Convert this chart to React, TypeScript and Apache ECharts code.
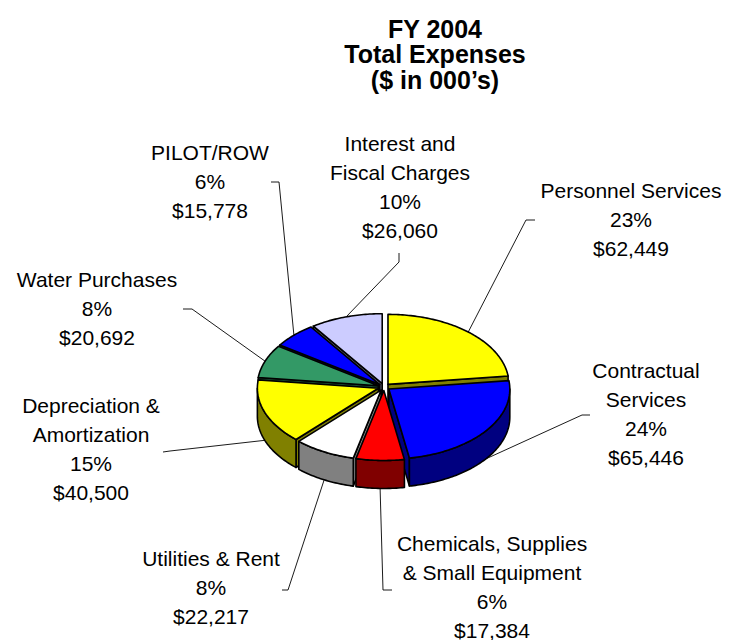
import React, { useEffect, useRef } from "react";
import * as echarts from "echarts";

// ---------- data ----------
const categories = [
  "Personnel Services",
  "Contractual\nServices",
  "Chemicals, Supplies\n& Small Equipment",
  "Utilities & Rent",
  "Depreciation &\nAmortization",
  "Water Purchases",
  "PILOT/ROW",
  "Interest and\nFiscal Charges",
];
const expenses = [62449, 65446, 17384, 22217, 40500, 20692, 15778, 26060];
const titleLines = ["FY 2004", "Total Expenses", "($ in 000\u2019s)"];

// ---------- styles / layout ----------
const topColors = ["#FFFF00", "#0000FF", "#FF0000", "#FFFFFF", "#FFFF00", "#339966", "#0000FF", "#CCCCFF"];
const sideColors = ["#808000", "#000080", "#800000", "#808080", "#808000", "#1A4D33", "#000080", "#666680"];
const PIE = { cx: 384, cy: 387, rx: 121, ry: 70, depth: 28, explode: 6 };
const LABEL_LINE_HEIGHT = 29;
// center x, top y of the label block
const labelPos = [
  [631, 176],
  [646, 356],
  [492, 529],
  [211, 544],
  [91, 391],
  [97, 265],
  [210, 138],
  [400, 129],
];
// first points of each leader line (near the label)
const leaderTicks = [
  [[535, 220], [526, 220]],
  [[590, 415], [582, 415]],
  [[392, 590], [383, 590]],
  [[282, 590], [288, 590]],
  [[163, 452], [170, 451]],
  [[183, 309], [192, 309]],
  [[271, 182], [279, 182]],
  [[399, 253], [399, 262]],
];
const FONT = '"Liberation Sans", Arial, Helvetica, sans-serif';

const total = expenses.reduce((a, b) => a + b, 0);
const cumulative: number[] = [];
expenses.reduce((acc, v, i) => {
  cumulative[i] = acc;
  return acc + v;
}, 0);
const midDepth = expenses.map((v, i) => {
  const mid = ((cumulative[i] + v / 2) / total) * Math.PI * 2;
  return -Math.cos(mid);
});
const order = midDepth.map((d, i) => i).sort((a, b) => midDepth[a] - midDepth[b]);
const rank: number[] = [];
order.forEach((idx, r) => (rank[idx] = r));

function renderItem(params: any, api: any) {
  const i = params.dataIndex;
  const v = api.value(0) as number;
  const s = (cumulative[i] / total) * Math.PI * 2;
  const e = ((cumulative[i] + v) / total) * Math.PI * 2;
  const mid = (s + e) / 2;
  const { rx, ry, depth, explode } = PIE;
  const cx = PIE.cx + explode * Math.sin(mid);
  const cy = PIE.cy - explode * Math.cos(mid) * (ry / rx);
  const pt = (a: number, dy = 0) => [cx + rx * Math.sin(a), cy - ry * Math.cos(a) + dy];
  const arc = (a0: number, a1: number, dy = 0) => {
    const n = Math.max(2, Math.ceil((a1 - a0) / (Math.PI / 180)));
    const out: number[][] = [];
    for (let k = 0; k <= n; k++) out.push(pt(a0 + ((a1 - a0) * k) / n, dy));
    return out;
  };
  const base = rank[i] * 10;
  const stroke = { stroke: "#000", lineWidth: 1.6, lineJoin: "round" };
  const children: any[] = [];

  const cutFace = (a: number) => ({
    type: "polygon",
    z2: base + 1,
    shape: { points: [[cx, cy], pt(a), pt(a, depth), [cx, cy + depth]] },
    style: { fill: sideColors[i], ...stroke },
  });
  if (Math.sin(s) < -1e-6) children.push(cutFace(s));
  if (Math.sin(e) > 1e-6) children.push(cutFace(e));

  const w0 = Math.max(s, Math.PI / 2);
  const w1 = Math.min(e, (Math.PI * 3) / 2);
  if (w1 > w0) {
    const pts = arc(w0, w1).concat(arc(w0, w1, depth).reverse());
    children.push({
      type: "polygon",
      z2: base + 2,
      shape: { points: pts },
      style: { fill: sideColors[i], ...stroke },
    });
  }

  children.push({
    type: "polygon",
    z2: base + 3,
    shape: { points: [[cx, cy]].concat(arc(s, e)) },
    style: { fill: topColors[i], ...stroke },
  });

  // leader line
  const front = Math.cos(mid) < 0;
  const end = pt(mid, front ? depth : 0);
  children.push({
    type: "polyline",
    z2: 500,
    shape: { points: [...leaderTicks[i], end] },
    style: { stroke: "#000", lineWidth: 0.9, fill: null },
  });

  // label
  const pct = Math.round((v / total) * 100) + "%";
  const money = "$" + v.toLocaleString("en-US");
  children.push({
    type: "text",
    z2: 600,
    x: labelPos[i][0],
    y: labelPos[i][1],
    style: {
      text: categories[i] + "\n" + pct + "\n" + money,
      fill: "#000",
      font: "21px " + FONT,
      align: "center",
      textAlign: "center",
      verticalAlign: "top",
      textVerticalAlign: "top",
      lineHeight: LABEL_LINE_HEIGHT,
    },
  });

  return { type: "group", children };
}

export default function App() {
  const ref = useRef<HTMLDivElement>(null);
  useEffect(() => {
    const chart = echarts.init(ref.current!, null, { renderer: "svg" });
    chart.setOption({
      animation: false,
      backgroundColor: "#ffffff",
      graphic: [
        {
          type: "text",
          x: 435,
          y: 16,
          z: 10,
          style: {
            text: titleLines.join("\n"),
            fill: "#000",
            font: "bold 25px " + FONT,
            align: "center",
            textAlign: "center",
            verticalAlign: "top",
            textVerticalAlign: "top",
            lineHeight: 25.5,
          },
        },
      ],
      series: [
        {
          type: "custom",
          coordinateSystem: "none",
          silent: true,
          renderItem,
          data: expenses,
        },
      ],
    });
    return () => chart.dispose();
  }, []);
  return (
    <div
      ref={ref}
      style={{ position: "fixed", left: 0, top: 0, width: 729, height: 640, background: "#fff" }}
    />
  );
}
